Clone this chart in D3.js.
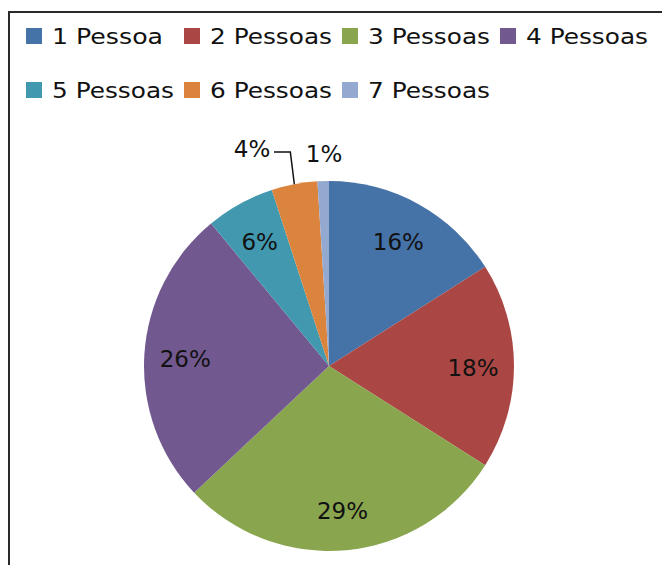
<!DOCTYPE html>
<html>
<head>
<meta charset="utf-8">
<script src="https://cdn.jsdelivr.net/npm/d3@7"></script>
<style>
  html, body { margin: 0; padding: 0; background: #fff; }
  svg { display: block; }
  text { font-family: "DejaVu Sans", Verdana, sans-serif; fill: #111; }
</style>
</head>
<body>
<svg id="chart" width="662" height="565"></svg>
<script>
// Household size distribution
const categories = ["1 Pessoa", "2 Pessoas", "3 Pessoas", "4 Pessoas", "5 Pessoas", "6 Pessoas", "7 Pessoas"];
const values = [16, 18, 29, 26, 6, 4, 1];
const colors = ["#4572A7", "#AA4643", "#89A54E", "#71588F", "#4198AF", "#DB843D", "#93A9CF"];

const svg = d3.select("#chart");

// frame (only top and left edges are visible in the viewport)
svg.append("path")
  .attr("d", "M9,565 V12 H662")
  .attr("fill", "none")
  .attr("stroke", "#2a2a2a")
  .attr("stroke-width", 2);

// legend: four entries per row
const legend = svg.append("g");
const perRow = 4, colW = 158, rowH = 54;
categories.forEach((c, i) => {
  const col = i % perRow, row = Math.floor(i / perRow);
  const g = legend.append("g").attr("transform", `translate(${26 + col * colW},${28 + row * rowH})`);
  g.append("rect").attr("width", 16).attr("height", 16).attr("fill", colors[i]);
  g.append("text")
    .attr("x", 26).attr("y", 16)
    .attr("font-size", 22)
    .attr("textLength", c.length === 8 ? 111 : 122)
    .attr("lengthAdjust", "spacingAndGlyphs")
    .text(c);
});

// pie
const cx = 329, cy = 366, r = 185;
const pie = d3.pie().sort(null).value(d => d)(values);
const arc = d3.arc().innerRadius(0).outerRadius(r);
const labelArc = d3.arc().innerRadius(144).outerRadius(144);

const g = svg.append("g").attr("transform", `translate(${cx},${cy})`);
g.selectAll("path.slice").data(pie).join("path")
  .attr("class", "slice")
  .attr("d", arc)
  .attr("fill", (d, i) => colors[i]);

const pct = v => v + "%";
const inside = pie.filter(d => d.data >= 5);
g.selectAll("text.inlabel").data(inside).join("text")
  .attr("class", "inlabel")
  .attr("transform", d => `translate(${labelArc.centroid(d)})`)
  .attr("text-anchor", "middle")
  .attr("dy", "0.44em")
  .attr("font-size", 23)
  .text(d => pct(d.data));

// small slices get their labels outside the pie
const small = pie.filter(d => d.data < 5);
const outPos = { 4: [-77, -209], 1: [-5, -204] };
small.forEach(d => {
  const [lx, ly] = outPos[d.data];
  g.append("text")
    .attr("x", lx).attr("y", ly)
    .attr("text-anchor", "middle")
    .attr("font-size", 23)
    .text(pct(d.data));
  if (d.data === 4) {
    // leader from the label to the middle of the slice's rim
    const a = (d.startAngle + d.endAngle) / 2;
    const ex = r * Math.sin(a), ey = -r * Math.cos(a);
    g.append("path")
      .attr("d", `M${lx + 22},${ly - 5} H${ex - 4} L${ex},${ey}`)
      .attr("fill", "none")
      .attr("stroke", "#111")
      .attr("stroke-width", 1.5);
  }
});
</script>
</body>
</html>
